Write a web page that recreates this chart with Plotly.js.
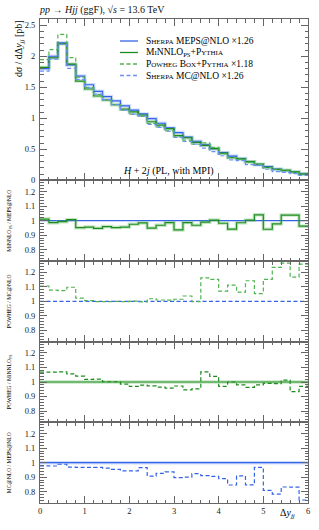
<!DOCTYPE html>
<html><head><meta charset="utf-8">
<script src="https://cdn.plot.ly/plotly-3.0.1.min.js"></script>
<style>html,body{margin:0;padding:0;background:#fff}</style>
</head><body>
<div id="chart" style="width:319px;height:530px"></div>
<script>
// ---- data ----
const binEdges = [0,0.2,0.4,0.6,0.8,1,1.2,1.4,1.6,1.8,2,2.2,2.4,2.6,2.8,3,3.2,3.4,3.6,3.8,4,4.2,4.4,4.6,4.8,5,5.2,5.4,5.6,5.8,6];
const sherpaMEPS = [1.800,2.000,2.215,1.860,1.680,1.540,1.435,1.350,1.280,1.200,1.130,1.070,0.995,0.920,0.845,0.770,0.695,0.630,0.570,0.510,0.445,0.390,0.350,0.300,0.250,0.220,0.180,0.155,0.130,0.105];
const minnloPS   = [1.820,1.972,2.200,1.873,1.599,1.472,1.359,1.295,1.219,1.147,1.102,1.053,0.944,0.891,0.833,0.721,0.686,0.610,0.564,0.512,0.437,0.367,0.345,0.301,0.260,0.207,0.176,0.161,0.135,0.101];
const powhegBox  = [1.945,2.106,2.353,1.979,1.663,1.498,1.386,1.297,1.221,1.130,1.068,1.030,0.919,0.860,0.798,0.701,0.649,0.581,0.603,0.532,0.424,0.367,0.338,0.290,0.255,0.205,0.174,0.163,0.126,0.098];
const sherpaMCNLO= [1.759,1.954,2.191,1.804,1.626,1.491,1.389,1.300,1.221,1.132,1.066,1.034,0.903,0.852,0.791,0.691,0.626,0.582,0.519,0.462,0.396,0.330,0.318,0.254,0.242,0.178,0.141,0.129,0.108,0.078];
const xTickVals = [0,1,2,3,4,5,6];
const xTickText = ['0','1','2','3','4','5','6'];
const mainTickVals = [0,0.5,1,1.5,2,2.5];
const mainTickText = ['0','0.5','1','1.5','2','2.5'];
const ratioTickVals = [0.8,0.9,1,1.1,1.2];
const ratioTickText = ['0.8','0.9','1','1.1','1.2'];
const legendLabels = [
  'Sherpa MEPS@NLO ×1.26',
  'MiNNLO<sub>PS</sub>+Pythia',
  'Powheg Box+Pythia ×1.18',
  'Sherpa MC@NLO ×1.26'
];
const ratioTitles = ['MiNNLO<sub>PS</sub> / MEPS@NLO', 'POWHEG / MC@NLO', 'POWHEG / MiNNLO<sub>PS</sub>', 'MC@NLO / MEPS@NLO'];

// ---- styles ----
const FONT = 'Liberation Serif, Times New Roman, serif';
const cBlue = '#3563e8', cGreen = '#1f8c1f', cGreenD = '#4fb34f', cBlueD = '#6c90f4';
const bandBlue = 'rgba(110,150,250,0.32)', bandGreen = 'rgba(70,175,70,0.32)';
const DASH = '4px,2.5px';

function stepY(a){ return a.concat([a[a.length-1]]); }
function ratio(a,b){ return a.map((v,i)=>v/b[i]); }
function tr(y, ax, color, width, dash){
  return {x: binEdges, y: stepY(y), xaxis:'x'+ax, yaxis:'y'+ax, type:'scatter', mode:'lines',
          line:{shape:'hv', color:color, width:width, dash:dash||'solid'}, hoverinfo:'skip', showlegend:false};
}
const A = ['', '2', '3', '4', '5'];
const traces = [
  tr(sherpaMEPS, A[0], bandBlue, 3.5), tr(minnloPS, A[0], bandGreen, 3.5),
  tr(sherpaMEPS, A[0], cBlue, 1.2), tr(minnloPS, A[0], cGreen, 1.2),
  tr(powhegBox, A[0], cGreenD, 1.2, DASH), tr(sherpaMCNLO, A[0], cBlueD, 1.2, DASH),
  // panel 1: MiNNLO / MEPS
  tr(ratio(sherpaMEPS, sherpaMEPS), A[1], cBlue, 1.2),
  tr(ratio(minnloPS, sherpaMEPS), A[1], bandGreen, 3.5),
  tr(ratio(minnloPS, sherpaMEPS), A[1], cGreen, 1.2),
  // panel 2: POWHEG / MC@NLO
  tr(ratio(sherpaMCNLO, sherpaMCNLO), A[2], cBlue, 1.1, DASH),
  tr(ratio(powhegBox, sherpaMCNLO), A[2], cGreenD, 1.2, DASH),
  // panel 3: POWHEG / MiNNLO
  tr(ratio(minnloPS, minnloPS), A[3], bandGreen, 3.5),
  tr(ratio(minnloPS, minnloPS), A[3], cGreen, 1.2),
  tr(ratio(powhegBox, minnloPS), A[3], cGreen, 1.2, DASH),
  // panel 4: MC@NLO / MEPS
  tr(ratio(sherpaMEPS, sherpaMEPS), A[4], bandBlue, 3.5),
  tr(ratio(sherpaMEPS, sherpaMEPS), A[4], cBlue, 1.2),
  tr(ratio(sherpaMCNLO, sherpaMEPS), A[4], cBlue, 1.2, DASH)
];

const tickFont = {family: FONT, size: 8.5, color: '#222'};
function xAx(anchor, labels){
  return {domain:[0,1], anchor:anchor, range:[0,6], tickmode:'array', tickvals:xTickVals, ticktext:xTickText,
    showticklabels:labels, ticks:'inside', ticklen:7, tickwidth:1, tickcolor:'#666', mirror:'allticks',
    showline:true, linecolor:'#666', linewidth:1, showgrid:false, zeroline:false, tickfont:tickFont,
    minor:{tick0:0, dtick:0.2, ticks:'inside', ticklen:3.5, tickcolor:'#666', showgrid:false}, fixedrange:true};
}
function yAx(anchor, dom, rng, tv, tt, minor, title){
  const ax = {domain:dom, anchor:anchor, range:rng, tickmode:'array', tickvals:tv, ticktext:tt,
    ticks:'inside', ticklen:7, tickwidth:1, tickcolor:'#666', mirror:'allticks',
    showline:true, linecolor:'#666', linewidth:1, showgrid:false, zeroline:false, tickfont:tickFont,
    ticklabelstandoff:2, automargin:false,
    minor:{dtick:minor, ticks:'inside', ticklen:3.5, tickcolor:'#666', showgrid:false}, fixedrange:true};
  if(title) ax.title = {text:title, standoff:12, font:{family:FONT, size:5.6, color:'#000'}};
  return ax;
}
const RR = [0.722, 1.278];
const layout = {
  width:319, height:530, margin:{l:40, r:11, t:19, b:27}, paper_bgcolor:'#fff', plot_bgcolor:'#fff',
  showlegend:false, font:{family:FONT, color:'#000'},
  title:{text:'<i>pp</i> → <i>Hjj</i> (ggF), √<i>s</i> = 13.6 TeV', x:40/319, xanchor:'left', y:1-9/530, yanchor:'middle',
         font:{family:FONT, size:10, color:'#111'}},
  xaxis: xAx('y', false), xaxis2: Object.assign(xAx('y2', false), {matches:'x'}),
  xaxis3: Object.assign(xAx('y3', false), {matches:'x'}), xaxis4: Object.assign(xAx('y4', false), {matches:'x'}),
  xaxis5: Object.assign(xAx('y5', true), {matches:'x'}),
  yaxis: yAx('x', [0.6667,1], [0,2.6], mainTickVals, mainTickText, 0.1),
  yaxis2: yAx('x2', [0.5,0.6667], RR, ratioTickVals, ratioTickText, 0.02, ratioTitles[0]),
  yaxis3: yAx('x3', [0.3333,0.5], RR, ratioTickVals, ratioTickText, 0.02, ratioTitles[1]),
  yaxis4: yAx('x4', [0.1667,0.3333], RR, ratioTickVals, ratioTickText, 0.02, ratioTitles[2]),
  yaxis5: yAx('x5', [0,0.1667], RR, ratioTickVals, ratioTickText, 0.02, ratioTitles[3]),
  shapes: [], annotations: []
};
const px = p => (p-40)/268, py = p => (503-p)/484;
const legRows = [41, 52.5, 64, 75.5];
const legStyles = [[cBlue,'solid'],[cGreen,'solid'],[cGreenD,DASH],[cBlueD,DASH]];
legendLabels.forEach((t,i)=>{
  layout.shapes.push({type:'line', xref:'paper', yref:'paper', x0:px(120), x1:px(138), y0:py(legRows[i]), y1:py(legRows[i]),
    line:{color:legStyles[i][0], width:1.3, dash:legStyles[i][1]}});
  layout.annotations.push({xref:'paper', yref:'paper', x:px(144), y:py(legRows[i]), xanchor:'left', yanchor:'middle',
    showarrow:false, text:t, font:{family:FONT, size:9.5, color:'#000', variant:'small-caps'}});
});
const ann = (x,y,text,size,opts)=>Object.assign({xref:'paper', yref:'paper', x:x, y:y, text:text, showarrow:false,
  font:{family:FONT, size:size, color:'#000'}}, opts||{});
layout.annotations.push(ann(px(121), py(163), '<i>H</i> + 2<i>j</i> (PL, with MPI)', 10));
layout.annotations.push(ann(px(297), py(522), 'Δ<i>y</i><sub><i>jj</i></sub>', 10));
layout.annotations.push(ann(px(11), py(18), 'd<i>σ</i> / dΔ<i>y</i><sub><i>jj</i></sub> [pb]', 10, {textangle:-90, yanchor:'top'}));
Plotly.newPlot('chart', traces, layout, {staticPlot:true, displayModeBar:false});
</script>
</body></html>
